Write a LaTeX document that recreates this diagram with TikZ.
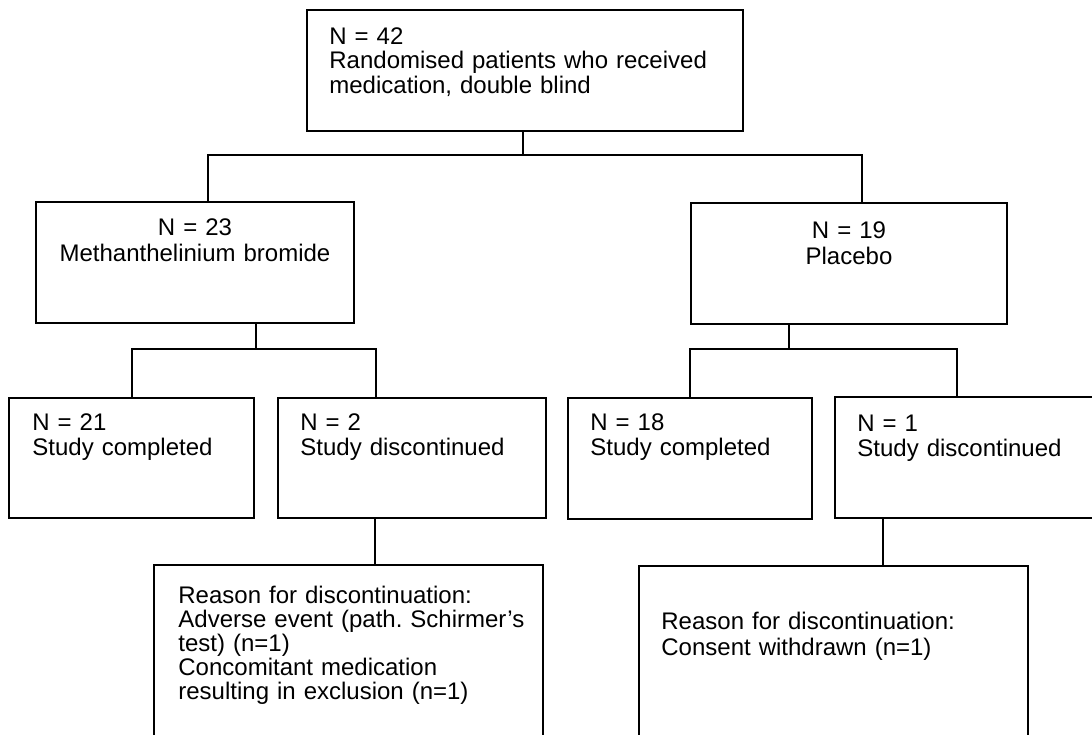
\documentclass[tikz,border=0pt]{standalone}
\usepackage{fontspec}
\setmainfont{Liberation Sans}
\frenchspacing
\begin{document}
\begin{tikzpicture}[x=0.5pt,y=-0.5pt,
  box/.style={draw, line width=0.9pt, anchor=north west, inner sep=0pt, outer sep=0pt},
  conn/.style={draw, line width=0.9pt},
  txtl/.style={anchor=base west, inner sep=0pt, align=left, text width=#1},
  txtc/.style={anchor=base, inner sep=0pt, align=center, text width=#1},
  f12/.style={font=\fontsize{12pt}{#1}\selectfont\frenchspacing}
]
\useasboundingbox (0,0) rectangle (1092,734);
\clip (0,0) rectangle (1092,734);
% boxes
\node[box, minimum width=218pt, minimum height=60.5pt] (top) at (307,10) {};
\node[box, minimum width=159pt, minimum height=60.5pt] (mb) at (36,202) {};
\node[box, minimum width=158pt, minimum height=60.5pt] (pl) at (691,203) {};
\node[box, minimum width=122.5pt, minimum height=60pt] (n21) at (9,398) {};
\node[box, minimum width=134pt, minimum height=60pt] (n2) at (278,398) {};
\node[box, minimum width=122pt, minimum height=60.5pt] (n18) at (568,398) {};
\node[box, minimum width=137.5pt, minimum height=60.5pt] (n1) at (835,397) {};
\node[box, minimum width=194.5pt, minimum height=97.5pt] (r1) at (154,565) {};
\node[box, minimum width=194.5pt, minimum height=97pt] (r2) at (639,566) {};
% texts
\node[txtl=200pt, f12=12.3pt] (ttop) at (329,44) {N = 42\\Randomised patients who received\\medication, double blind};
\node[txtc=150pt, f12=13pt] (tmb) at (195,235) {N = 23\\Methanthelinium bromide};
\node[txtc=150pt, f12=13pt] (tpl) at (849,238) {N = 19\\Placebo};
\node[txtl=110pt, f12=12.8pt] (tn21) at (32,430) {N = 21\\Study completed};
\node[txtl=120pt, f12=12.8pt] (tn2) at (300,430) {N = 2\\Study discontinued};
\node[txtl=110pt, f12=12.8pt] (tn18) at (590,430) {N = 18\\Study completed};
\node[txtl=120pt, f12=12.8pt] (tn1) at (857,431) {N = 1\\Study discontinued};
\node[txtl=185pt, f12=12pt] (tr1) at (178,603) {Reason for discontinuation:\\Adverse event (path. Schirmer's\\test) (n=1)\\Concomitant medication\\resulting in exclusion (n=1)};
\node[txtl=185pt, f12=13pt] (tr2) at (661,629) {Reason for discontinuation:\\Consent withdrawn (n=1)};
% junction points
\coordinate (j0) at (523,155);
\coordinate (jl) at (208,155);
\coordinate (jr) at (862,155);
\coordinate (k0) at (256,349);
\coordinate (kl) at (132,349);
\coordinate (kr) at (376,349);
\coordinate (m0) at (789,349);
\coordinate (ml) at (690,349);
\coordinate (mr) at (957,349);
\coordinate (p1) at (375,540);
\coordinate (p2) at (883,540);
% connectors
\draw[conn] (top.south -| j0) -- (j0);
\draw[conn] (mb.north -| jl) -- (jl) -- (jr) -- (pl.north -| jr);
\draw[conn] (mb.south -| k0) -- (k0);
\draw[conn] (n21.north -| kl) -- (kl) -- (kr) -- (n2.north -| kr);
\draw[conn] (pl.south -| m0) -- (m0);
\draw[conn] (n18.north -| ml) -- (ml) -- (mr) -- (n1.north -| mr);
\draw[conn] (n2.south -| p1) -- (r1.north -| p1);
\draw[conn] (n1.south -| p2) -- (r2.north -| p2);
\end{tikzpicture}
\end{document}
